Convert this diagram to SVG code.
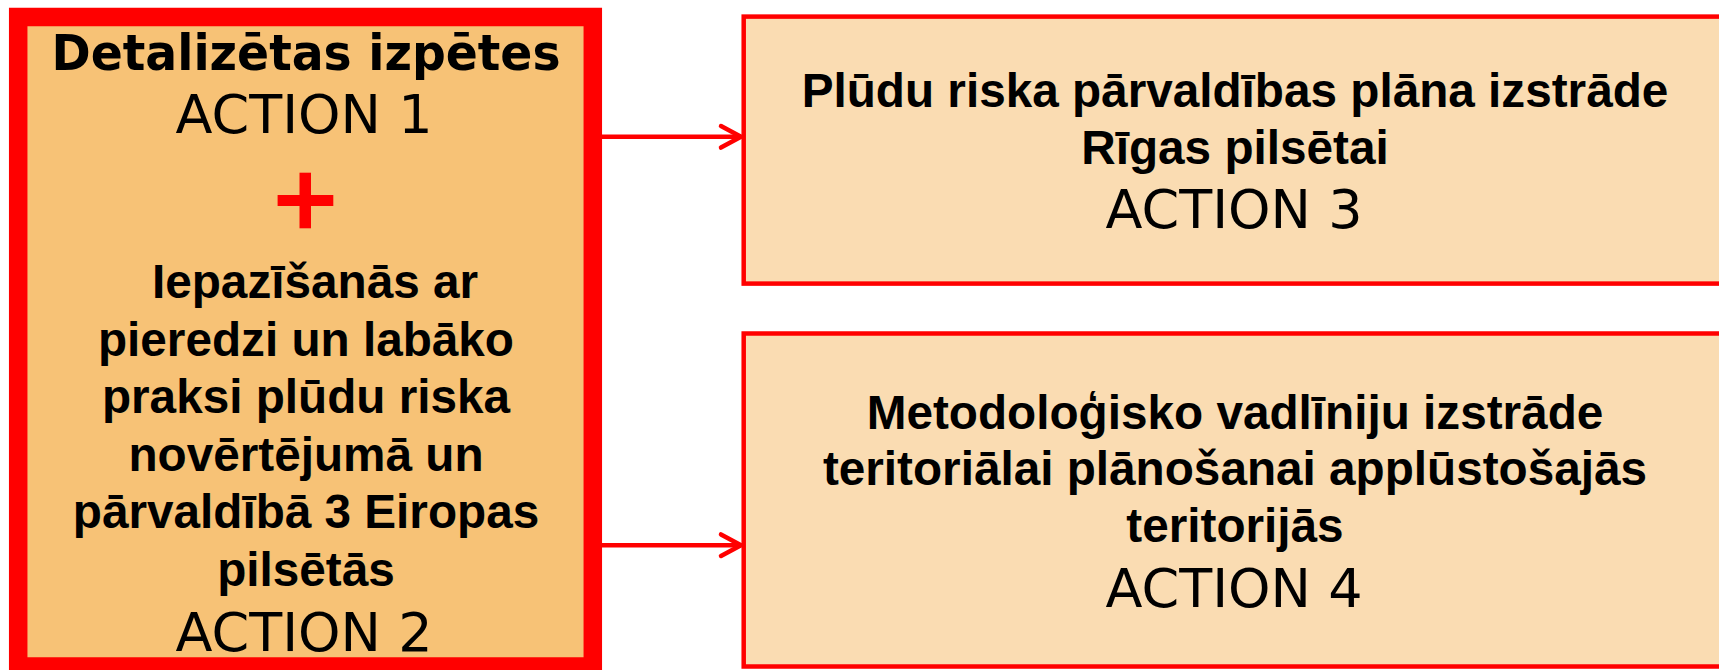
<svg xmlns="http://www.w3.org/2000/svg" width="1719" height="670" viewBox="0 0 1719 670">
  <style>
    .bold { font-family: "Liberation Sans", Arial, sans-serif; font-weight: bold; font-size: 47.7px; fill: #000; text-anchor: middle; }
    .title { font-family: "DejaVu Sans", Verdana, sans-serif; font-weight: bold; font-size: 50px; fill: #000; text-anchor: middle; }
    .action { font-family: "DejaVu Sans", Verdana, sans-serif; font-size: 54px; fill: #000; text-anchor: middle; }
    .conn { stroke: #FF0000; stroke-width: 4.5; fill: none; }
    .rbox { fill: #FADCB2; stroke: #FF0000; stroke-width: 4.5; }
  </style>
  <defs>
    <marker id="chev" markerUnits="userSpaceOnUse" markerWidth="30" markerHeight="30" viewBox="-26 -15 30 30" refX="0" refY="0" orient="auto">
      <path d="M -20 -10.8 L 0 0 L -20 10.8" fill="none" stroke="#FF0000" stroke-width="4.5" stroke-linecap="round" stroke-linejoin="round"/>
    </marker>
  </defs>
  <rect width="1719" height="670" fill="#FFFFFF"/>

  <g id="connectors">
    <line class="conn" x1="602" y1="136.8" x2="741" y2="136.8" marker-end="url(#chev)"/>
    <line class="conn" x1="602" y1="545.2" x2="741" y2="545.2" marker-end="url(#chev)"/>
  </g>

  <g id="node-actions-1-2">
    <rect x="18.2" y="17" width="574.6" height="649.5" fill="#F7C276" stroke="#FF0000" stroke-width="18.5"/>
    <text class="title" x="306" y="70" textLength="509" lengthAdjust="spacingAndGlyphs">Detalizētas izpētes</text>
    <text class="action" x="304" y="132.7">ACTION 1</text>
    <rect x="277.6" y="195" width="55.7" height="11" fill="#FF0000"/>
    <rect x="299.5" y="172.7" width="11.5" height="55.6" fill="#FF0000"/>
    <text class="bold" x="315" y="298.3">Iepazīšanās ar</text>
    <text class="bold" x="306" y="355.8">pieredzi un labāko</text>
    <text class="bold" x="306" y="413.3">praksi plūdu riska</text>
    <text class="bold" x="306" y="470.8">novērtējumā un</text>
    <text class="bold" x="306" y="528.3">pārvaldībā 3 Eiropas</text>
    <text class="bold" x="306" y="585.8">pilsētās</text>
    <text class="action" x="304" y="650.7">ACTION 2</text>
  </g>

  <g id="node-action3">
    <rect class="rbox" x="743.7" y="16.6" width="985" height="267"/>
    <text class="bold" x="1235" y="106.8">Plūdu riska pārvaldības plāna izstrāde</text>
    <text class="bold" x="1235" y="164.3">Rīgas pilsētai</text>
    <text class="action" x="1234" y="228.3">ACTION 3</text>
  </g>

  <g id="node-action4">
    <rect class="rbox" x="743.7" y="333.5" width="985" height="333"/>
    <text class="bold" x="1235" y="428.5">Metodoloģisko vadlīniju izstrāde</text>
    <text class="bold" x="1235" y="485.2">teritoriālai plānošanai applūstošajās</text>
    <text class="bold" x="1235" y="541.9">teritorijās</text>
    <text class="action" x="1234" y="606.7">ACTION 4</text>
  </g>
</svg>
